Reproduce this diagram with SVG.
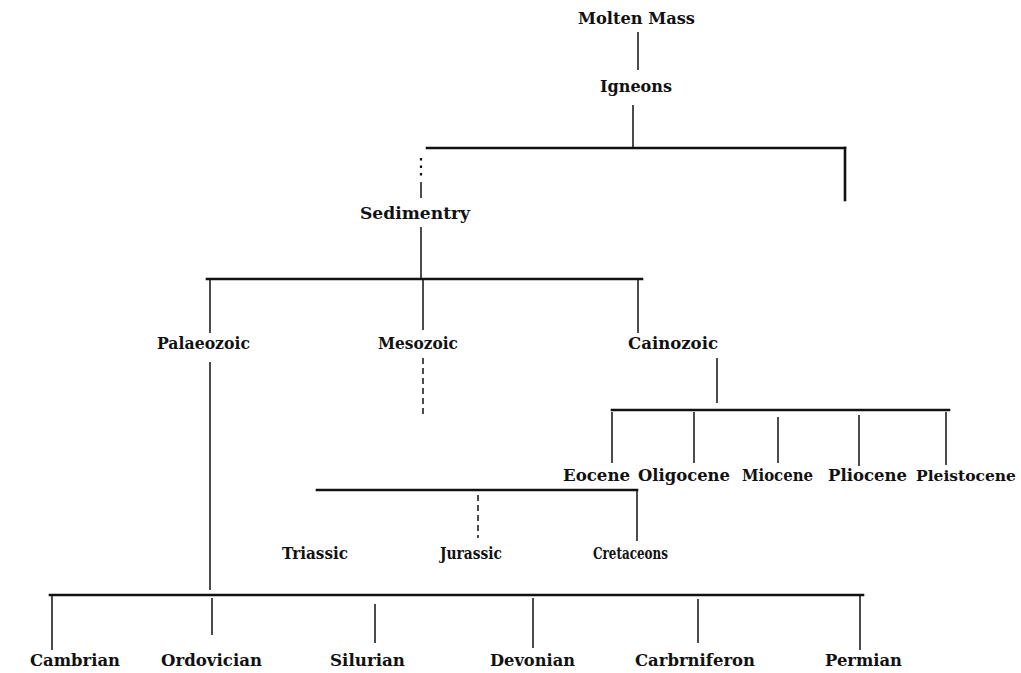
<svg xmlns="http://www.w3.org/2000/svg" width="1021" height="673" viewBox="0 0 1021 673">
<style>
.t{font-family:"DejaVu Serif","Liberation Serif",serif;font-size:17px;font-weight:bold;fill:#111;}
.h{stroke:#111;stroke-width:2.6;fill:none;stroke-linecap:square;}
.v{stroke:#111;stroke-width:1.5;fill:none;}
.d{stroke:#111;stroke-width:1.5;fill:none;stroke-dasharray:6 4;}
.dt{stroke:#111;stroke-width:2.2;fill:none;stroke-dasharray:2.5 5;}
</style>
<rect width="1021" height="673" fill="#fff"/>
<g id="connectors">
  <line class="v" x1="638" y1="32" x2="638" y2="70"/>
  <line class="v" x1="633" y1="105" x2="633" y2="148"/>
  <line class="h" x1="427" y1="148" x2="845" y2="148"/>
  <line class="h" x1="845" y1="148" x2="845" y2="200"/>
  <line class="dt" x1="421" y1="158" x2="421" y2="180"/>
  <line class="v" x1="421" y1="182" x2="421" y2="198"/>
  <line class="v" x1="421" y1="227" x2="421" y2="279"/>
  <line class="h" x1="207" y1="279" x2="642" y2="279"/>
  <line class="v" x1="210" y1="279" x2="210" y2="333"/>
  <line class="v" x1="423" y1="279" x2="423" y2="330"/>
  <line class="v" x1="638" y1="279" x2="638" y2="333"/>
  <line class="v" x1="210" y1="362" x2="210" y2="590"/>
  <line class="d" x1="423" y1="358" x2="423" y2="415"/>
  <line class="v" x1="717" y1="358" x2="717" y2="403"/>
  <line class="h" x1="612" y1="410" x2="949" y2="410"/>
  <line class="v" x1="612" y1="412" x2="612" y2="463"/>
  <line class="v" x1="694" y1="412" x2="694" y2="463"/>
  <line class="v" x1="778" y1="417" x2="778" y2="463"/>
  <line class="v" x1="859" y1="415" x2="859" y2="466"/>
  <line class="v" x1="946" y1="412" x2="946" y2="465"/>
  <line class="h" x1="317" y1="490" x2="637" y2="490"/>
  <line class="d" x1="478" y1="495" x2="478" y2="538"/>
  <line class="v" x1="637" y1="490" x2="637" y2="541"/>
  <line class="h" x1="50" y1="595" x2="863" y2="595"/>
  <line class="v" x1="52" y1="596" x2="52" y2="650"/>
  <line class="v" x1="212" y1="598" x2="212" y2="635"/>
  <line class="v" x1="375" y1="604" x2="375" y2="643"/>
  <line class="v" x1="533" y1="598" x2="533" y2="648"/>
  <line class="v" x1="698" y1="599" x2="698" y2="643"/>
  <line class="v" x1="860" y1="596" x2="860" y2="650"/>
</g>
<g id="molten-mass"><text class="t" x="578" y="24" textLength="117" lengthAdjust="spacingAndGlyphs">Molten Mass</text></g>
<g id="igneons"><text class="t" x="600" y="92" textLength="72" lengthAdjust="spacingAndGlyphs">Igneons</text></g>
<g id="sedimentry"><text class="t" x="360" y="219" textLength="110" lengthAdjust="spacingAndGlyphs">Sedimentry</text></g>
<g id="palaeozoic"><text class="t" x="157" y="349" textLength="93" lengthAdjust="spacingAndGlyphs">Palaeozoic</text></g>
<g id="mesozoic"><text class="t" x="378" y="349" textLength="80" lengthAdjust="spacingAndGlyphs">Mesozoic</text></g>
<g id="cainozoic"><text class="t" x="628" y="349" textLength="90" lengthAdjust="spacingAndGlyphs">Cainozoic</text></g>
<g id="eocene"><text class="t" x="563" y="481" textLength="67" lengthAdjust="spacingAndGlyphs">Eocene</text></g>
<g id="oligocene"><text class="t" x="638" y="481" textLength="92" lengthAdjust="spacingAndGlyphs">Oligocene</text></g>
<g id="miocene"><text class="t" x="742" y="481" textLength="71" lengthAdjust="spacingAndGlyphs">Miocene</text></g>
<g id="pliocene"><text class="t" x="828" y="481" textLength="79" lengthAdjust="spacingAndGlyphs">Pliocene</text></g>
<g id="pleistocene"><text class="t" x="916" y="481" style="font-size:15px" textLength="100" lengthAdjust="spacingAndGlyphs">Pleistocene</text></g>
<g id="triassic"><text class="t" x="282" y="559" textLength="66" lengthAdjust="spacingAndGlyphs">Triassic</text></g>
<g id="jurassic"><text class="t" x="440" y="559" textLength="62" lengthAdjust="spacingAndGlyphs">Jurassic</text></g>
<g id="cretaceons"><text class="t" x="593" y="559" textLength="75" lengthAdjust="spacingAndGlyphs">Cretaceons</text></g>
<g id="cambrian"><text class="t" x="30" y="666" textLength="90" lengthAdjust="spacingAndGlyphs">Cambrian</text></g>
<g id="ordovician"><text class="t" x="161" y="666" textLength="101" lengthAdjust="spacingAndGlyphs">Ordovician</text></g>
<g id="silurian"><text class="t" x="330" y="666" textLength="75" lengthAdjust="spacingAndGlyphs">Silurian</text></g>
<g id="devonian"><text class="t" x="490" y="666" textLength="85" lengthAdjust="spacingAndGlyphs">Devonian</text></g>
<g id="carbrniferon"><text class="t" x="635" y="666" textLength="120" lengthAdjust="spacingAndGlyphs">Carbrniferon</text></g>
<g id="permian"><text class="t" x="825" y="666" textLength="77" lengthAdjust="spacingAndGlyphs">Permian</text></g>
</svg>
